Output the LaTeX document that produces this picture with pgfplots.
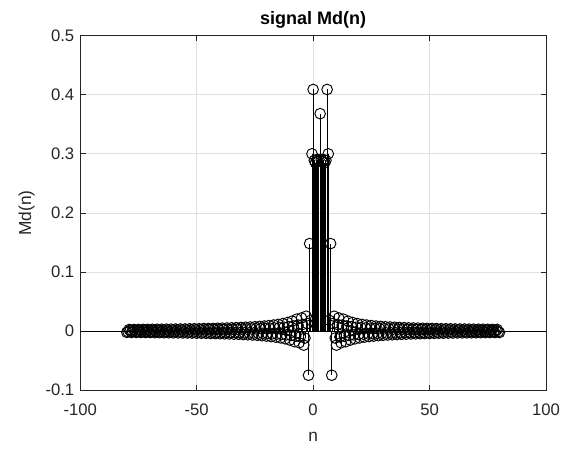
\documentclass[border=0pt]{standalone}
\usepackage{fontspec}
\setmainfont{Liberation Sans}
\usepackage{pgfplots}
\usepackage{pgfplotstable}
\pgfplotsset{compat=1.18}

\definecolor{axgray}{RGB}{38,38,38}
\definecolor{gridgray}{RGB}{223,223,223}

% Md(n) on the integer grid and the central half-step samples
\pgfplotstableread{
n Md
-80 -0.0024
-79 0.0024
-78 -0.0025
-77 0.0025
-76 -0.0025
-75 0.0026
-74 -0.0026
-73 0.0026
-72 -0.0027
-71 0.0027
-70 -0.0027
-69 0.0028
-68 -0.0028
-67 0.0029
-66 -0.0029
-65 0.0029
-64 -0.0030
-63 0.0030
-62 -0.0031
-61 0.0031
-60 -0.0032
-59 0.0032
-58 -0.0033
-57 0.0033
-56 -0.0034
-55 0.0034
-54 -0.0035
-53 0.0036
-52 -0.0036
-51 0.0037
-50 -0.0038
-49 0.0038
-48 -0.0039
-47 0.0040
-46 -0.0041
-45 0.0042
-44 -0.0043
-43 0.0043
-42 -0.0044
-41 0.0045
-40 -0.0047
-39 0.0048
-38 -0.0049
-37 0.0050
-36 -0.0051
-35 0.0053
-34 -0.0054
-33 0.0056
-32 -0.0057
-31 0.0059
-30 -0.0061
-29 0.0063
-28 -0.0065
-27 0.0067
-26 -0.0069
-25 0.0071
-24 -0.0074
-23 0.0077
-22 -0.0080
-21 0.0083
-20 -0.0087
-19 0.0091
-18 -0.0095
-17 0.0100
-16 -0.0105
-15 0.0111
-14 -0.0118
-13 0.0125
-12 -0.0133
-11 0.0143
-10 -0.0154
-9 0.0167
-8 -0.0182
-7 0.0200
-6 -0.0200
-5 0.0220
-4 -0.0240
-3 0.0250
-2 -0.0750
-1.5 0.1480
-1 0.0180
-0.5 0.3000
0 0.4090
0.5 0.2890
1 0.2850
1.5 0.2900
2 0.2870
2.5 0.2900
3 0.3680
3.5 0.2900
4 0.2870
4.5 0.2900
5 0.2850
5.5 0.2890
6 0.4090
6.5 0.3000
7 0.0180
7.5 0.1480
8 -0.0750
9 0.0250
10 -0.0240
11 0.0220
12 -0.0200
13 0.0200
14 -0.0182
15 0.0167
16 -0.0154
17 0.0143
18 -0.0133
19 0.0125
20 -0.0118
21 0.0111
22 -0.0105
23 0.0100
24 -0.0095
25 0.0091
26 -0.0087
27 0.0083
28 -0.0080
29 0.0077
30 -0.0074
31 0.0071
32 -0.0069
33 0.0067
34 -0.0065
35 0.0063
36 -0.0061
37 0.0059
38 -0.0057
39 0.0056
40 -0.0054
41 0.0053
42 -0.0051
43 0.0050
44 -0.0049
45 0.0048
46 -0.0047
47 0.0045
48 -0.0044
49 0.0043
50 -0.0043
51 0.0042
52 -0.0041
53 0.0040
54 -0.0039
55 0.0038
56 -0.0038
57 0.0037
58 -0.0036
59 0.0036
60 -0.0035
61 0.0034
62 -0.0034
63 0.0033
64 -0.0033
65 0.0032
66 -0.0032
67 0.0031
68 -0.0031
69 0.0030
70 -0.0030
71 0.0029
72 -0.0029
73 0.0029
74 -0.0028
75 0.0028
76 -0.0027
77 0.0027
78 -0.0027
79 0.0026
80 -0.0026
}\mdtable

% Md(n) on the half-step grid of the tails
\pgfplotstableread{
n Md
-79.5 -0.0012
-78.5 0.0012
-77.5 -0.0013
-76.5 0.0013
-75.5 -0.0013
-74.5 0.0013
-73.5 -0.0013
-72.5 0.0013
-71.5 -0.0014
-70.5 0.0014
-69.5 -0.0014
-68.5 0.0014
-67.5 -0.0014
-66.5 0.0015
-65.5 -0.0015
-64.5 0.0015
-63.5 -0.0015
-62.5 0.0015
-61.5 -0.0016
-60.5 0.0016
-59.5 -0.0016
-58.5 0.0016
-57.5 -0.0017
-56.5 0.0017
-55.5 -0.0017
-54.5 0.0017
-53.5 -0.0018
-52.5 0.0018
-51.5 -0.0018
-50.5 0.0019
-49.5 -0.0019
-48.5 0.0019
-47.5 -0.0020
-46.5 0.0020
-45.5 -0.0021
-44.5 0.0021
-43.5 -0.0022
-42.5 0.0022
-41.5 -0.0022
-40.5 0.0023
-39.5 -0.0024
-38.5 0.0024
-37.5 -0.0025
-36.5 0.0025
-35.5 -0.0026
-34.5 0.0027
-33.5 -0.0027
-32.5 0.0028
-31.5 -0.0029
-30.5 0.0030
-29.5 -0.0031
-28.5 0.0032
-27.5 -0.0033
-26.5 0.0034
-25.5 -0.0035
-24.5 0.0036
-23.5 -0.0037
-22.5 0.0039
-21.5 -0.0040
-20.5 0.0042
-19.5 -0.0044
-18.5 0.0046
-17.5 -0.0048
-16.5 0.0050
-15.5 -0.0053
-14.5 0.0056
-13.5 -0.0059
-12.5 0.0063
-11.5 -0.0067
-10.5 0.0072
-9.5 -0.0077
-8.5 0.0084
-7.5 -0.0091
-6.5 0.0100
-5.5 -0.0100
-4.5 0.0110
-3.5 -0.0120
-2.5 0.0125
8.5 0.0125
9.5 -0.0120
10.5 0.0110
11.5 -0.0100
12.5 0.0100
13.5 -0.0091
14.5 0.0084
15.5 -0.0077
16.5 0.0072
17.5 -0.0067
18.5 0.0063
19.5 -0.0059
20.5 0.0056
21.5 -0.0053
22.5 0.0050
23.5 -0.0048
24.5 0.0046
25.5 -0.0044
26.5 0.0042
27.5 -0.0040
28.5 0.0039
29.5 -0.0037
30.5 0.0036
31.5 -0.0035
32.5 0.0034
33.5 -0.0033
34.5 0.0032
35.5 -0.0031
36.5 0.0030
37.5 -0.0029
38.5 0.0028
39.5 -0.0027
40.5 0.0027
41.5 -0.0026
42.5 0.0025
43.5 -0.0025
44.5 0.0024
45.5 -0.0024
46.5 0.0023
47.5 -0.0022
48.5 0.0022
49.5 -0.0022
50.5 0.0021
51.5 -0.0021
52.5 0.0020
53.5 -0.0020
54.5 0.0019
55.5 -0.0019
56.5 0.0019
57.5 -0.0018
58.5 0.0018
59.5 -0.0018
60.5 0.0017
61.5 -0.0017
62.5 0.0017
63.5 -0.0017
64.5 0.0016
65.5 -0.0016
66.5 0.0016
67.5 -0.0016
68.5 0.0015
69.5 -0.0015
70.5 0.0015
71.5 -0.0015
72.5 0.0015
73.5 -0.0014
74.5 0.0014
75.5 -0.0014
76.5 0.0014
77.5 -0.0014
78.5 0.0013
79.5 -0.0013
}\mdhalf

\begin{document}
\begin{tikzpicture}
\begin{axis}[
  at={(0,0)}, anchor=south west,
  scale only axis,
  width=349.3pt, height=265.7pt,
  xmin=-100, xmax=100, ymin=-0.1, ymax=0.5,
  xtick={-100,-50,0,50,100},
  ytick={-0.1,0,0.1,0.2,0.3,0.4,0.5},
  yticklabel style={/pgf/number format/fixed, /pgf/number format/precision=1},
  /pgf/number format/assume math mode=true,
  tick label style={font=\fontsize{12.5}{14}\selectfont, color=axgray},
  xticklabel style={yshift=-7pt},
  yticklabel style={xshift=-1pt},
  tick align=inside, tick pos=both,
  major tick length=4pt,
  axis line style={color=axgray, line width=0.5pt},
  every tick/.style={color=axgray, line width=0.5pt},
  grid=major,
  major grid style={color=gridgray, line width=0.5pt},
  every axis title shift=0pt,
  title={\textbf{signal Md(n)}},
  title style={font=\fontsize{13.5}{15}\selectfont, color=black, at={(axis description cs:0.5,1.044)}, anchor=center},
  xlabel={n}, ylabel={Md(n)},
  label style={font=\fontsize{13}{15}\selectfont, color=axgray},
  x label style={at={(axis description cs:0.5,-0.132)}, anchor=center},
  y label style={at={(axis description cs:-0.115,0.5)}, anchor=center},
  clip=true,
]
% baseline of the stem plot
\addplot[black, line width=0.5pt, forget plot] coordinates {(-100,0) (100,0)};
% stems with open circle heads
\addplot[black, line width=0.7pt, ycomb, mark=o, mark size=4pt,
  mark options={line width=0.7pt, fill=none}, forget plot] table[x=n, y=Md] {\mdhalf};
\addplot[black, line width=0.7pt, ycomb, mark=o, mark size=4pt,
  mark options={line width=0.7pt, fill=none}] table[x=n, y=Md] {\mdtable};
\end{axis}
\pgfresetboundingbox
\path[use as bounding box] (-60.2pt,-45pt) rectangle (361.3pt,292.5pt);
\end{tikzpicture}
\end{document}
